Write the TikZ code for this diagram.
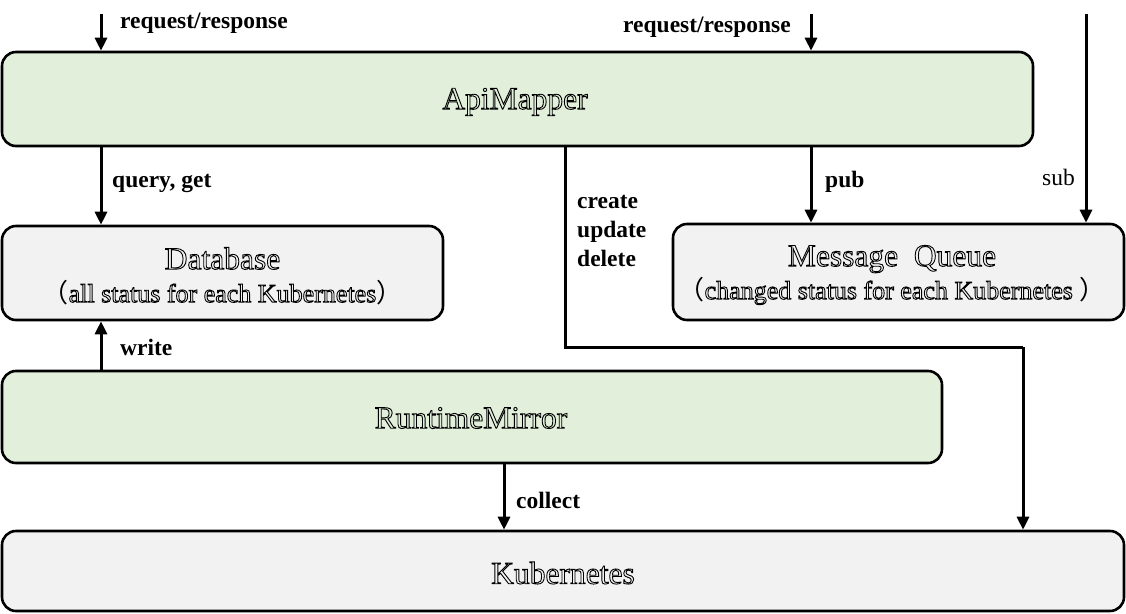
\documentclass[tikz,border=0pt]{standalone}
\usepackage{fontspec}
\setmainfont{Liberation Serif}
\newfontfamily\cjk{Noto Sans CJK SC}
\usetikzlibrary{arrows.meta}
\newcommand\outl[1]{\special{pdf:literal direct 1 Tr 0.9 w}#1\special{pdf:literal direct 0 Tr}}
\newcommand\lp{{\cjk （}}
\newcommand\rp{{\cjk ）}}
\definecolor{greenfill}{HTML}{E2EFDA}
\definecolor{grayfill}{HTML}{F2F2F2}
\tikzset{
  box/.style={draw=black, line width=2.6pt, rounded corners=14pt, inner sep=0pt, align=center},
  gbox/.style={box, fill=greenfill},
  wbox/.style={box, fill=grayfill},
  arr/.style={line width=3pt, -{Triangle[length=13pt,width=12pt]}},
  ln/.style={line width=3pt},
  lbl/.style={anchor=west, inner sep=0pt, font=\fontsize{23.5}{29}\selectfont\bfseries},
  lblr/.style={anchor=west, inner sep=0pt, font=\fontsize{23.5}{29}\selectfont},
  title/.style={font=\fontsize{31.5}{36}\selectfont},
}
\begin{document}
\begin{tikzpicture}[x=1pt,y=-1pt]
\useasboundingbox (0,0) rectangle (1126,613);
% boxes
\node[gbox, minimum width=1031pt, minimum height=94pt] (api) at (517.5,99) {};
\node[title] (apit) at (515,102) {\outl{ApiMapper}};
\node[wbox, minimum width=441pt, minimum height=94pt] (db) at (222.5,273) {};
\node[title, align=center] (dbt) at (222.5,276) {\outl{Database}\\[-3pt]{\fontsize{26}{30}\selectfont\lp\outl{all status for each Kubernetes}\rp}};
\node[wbox, minimum width=451pt, minimum height=96pt] (mq) at (898.5,272) {};
\node[title, align=center] (mqt) at (892,275) {\outl{Message\ \ Queue}\\[-3pt]{\fontsize{26}{30}\selectfont\lp\outl{changed status for each Kubernetes }\rp}};
\node[gbox, minimum width=940pt, minimum height=92pt] (rm) at (472,417) {};
\node[title] (rmt) at (471,418) {\outl{RuntimeMirror}};
\node[wbox, minimum width=1122pt, minimum height=80pt] (k8s) at (563,571) {};
\node[title] (k8st) at (563,573) {\outl{Kubernetes}};
% helper coordinates
\coordinate (xa) at (101,0);
\coordinate (xb) at (811,0);
\coordinate (xc) at (1086,0);
\coordinate (xd) at (565,0);
\coordinate (xe) at (1023,0);
\coordinate (xf) at (504,0);
\coordinate (top1) at (101,14);
\coordinate (top2) at (811,14);
\coordinate (top3) at (1086,14);
\coordinate (bend1) at (565,347);
\coordinate (bend2) at (1023,347);
% connectors
\draw[arr] (top1) -- (api.north -| xa);
\draw[arr] (top2) -- (api.north -| xb);
\draw[arr] (top3) -- (mq.north -| xc);
\draw[arr] (api.south -| xa) -- (db.north -| xa);
\draw[arr] (api.south -| xb) -- (mq.north -| xb);
\draw[arr] (rm.north -| xa) -- (db.south -| xa);
\draw[arr] (rm.south -| xf) -- (k8s.north -| xf);
\draw[ln, line join=miter] (api.south -| xd) -- (bend1) -- (bend2);
\draw[arr] (bend2) -- (k8s.north -| xe);
% labels
\node[lbl] (l1) at (120,23) {request/response};
\node[lbl] (l2) at (623,27) {request/response};
\node[lbl] (l3) at (112,183) {query, get};
\node[lbl] (l4) at (120,347) {write};
\node[lbl] (l5) at (825,182) {pub};
\node[lblr] (l6) at (1042,177) {sub};
\node[lbl, align=left] (l7) at (577,231) {create\\update\\delete};
\node[lbl] (l8) at (516,500) {collect};
\end{tikzpicture}
\end{document}
